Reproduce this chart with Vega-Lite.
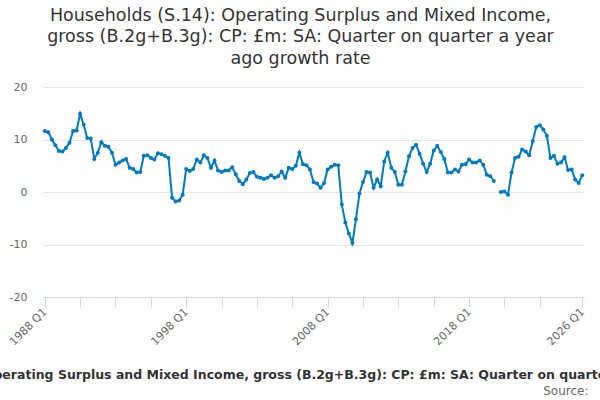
{
  "$schema": "https://vega.github.io/schema/vega-lite/v6.json",
  "description": "Households (S.14): Operating Surplus and Mixed Income, gross, quarter on quarter a year ago growth rate, 1988 Q1 to 2026 Q1.",
  "autosize": {"type": "none"},
  "padding": {"left": 43, "top": 87, "right": 16, "bottom": 103},
  "width": 541,
  "height": 210,
  "background": "#ffffff",
  "title": {
    "text": [
      "Households (S.14): Operating Surplus and Mixed Income,",
      "gross (B.2g+B.3g): CP: £m: SA: Quarter on quarter a year",
      "ago growth rate"
    ],
    "font": "DejaVu Sans",
    "fontSize": 17.5,
    "fontWeight": "normal",
    "color": "#333333",
    "lineHeight": 21.5,
    "anchor": "middle",
    "frame": "group",
    "dx": -13,
    "offset": 14
  },
  "data": {
    "values": [
      {"quarter": "1988 Q1", "value": 11.6}, {"quarter": "1988 Q2", "value": 11.4}, {"quarter": "1988 Q3", "value": 10.0}, {"quarter": "1988 Q4", "value": 8.9},
      {"quarter": "1989 Q1", "value": 7.8}, {"quarter": "1989 Q2", "value": 7.7}, {"quarter": "1989 Q3", "value": 8.4}, {"quarter": "1989 Q4", "value": 9.4},
      {"quarter": "1990 Q1", "value": 11.6}, {"quarter": "1990 Q2", "value": 11.7}, {"quarter": "1990 Q3", "value": 14.9}, {"quarter": "1990 Q4", "value": 12.8},
      {"quarter": "1991 Q1", "value": 10.3}, {"quarter": "1991 Q2", "value": 10.2}, {"quarter": "1991 Q3", "value": 6.3}, {"quarter": "1991 Q4", "value": 7.5},
      {"quarter": "1992 Q1", "value": 9.5}, {"quarter": "1992 Q2", "value": 8.8}, {"quarter": "1992 Q3", "value": 8.6}, {"quarter": "1992 Q4", "value": 7.5},
      {"quarter": "1993 Q1", "value": 5.2}, {"quarter": "1993 Q2", "value": 5.6}, {"quarter": "1993 Q3", "value": 6.0}, {"quarter": "1993 Q4", "value": 6.3},
      {"quarter": "1994 Q1", "value": 4.6}, {"quarter": "1994 Q2", "value": 4.4}, {"quarter": "1994 Q3", "value": 3.7}, {"quarter": "1994 Q4", "value": 3.8},
      {"quarter": "1995 Q1", "value": 6.9}, {"quarter": "1995 Q2", "value": 7.0}, {"quarter": "1995 Q3", "value": 6.5}, {"quarter": "1995 Q4", "value": 6.2},
      {"quarter": "1996 Q1", "value": 7.4}, {"quarter": "1996 Q2", "value": 7.2}, {"quarter": "1996 Q3", "value": 6.9}, {"quarter": "1996 Q4", "value": 6.5},
      {"quarter": "1997 Q1", "value": -1.1}, {"quarter": "1997 Q2", "value": -1.8}, {"quarter": "1997 Q3", "value": -1.6}, {"quarter": "1997 Q4", "value": -0.5},
      {"quarter": "1998 Q1", "value": 4.4}, {"quarter": "1998 Q2", "value": 4.0}, {"quarter": "1998 Q3", "value": 4.4}, {"quarter": "1998 Q4", "value": 6.2},
      {"quarter": "1999 Q1", "value": 5.6}, {"quarter": "1999 Q2", "value": 7.0}, {"quarter": "1999 Q3", "value": 6.5}, {"quarter": "1999 Q4", "value": 4.6},
      {"quarter": "2000 Q1", "value": 6.0}, {"quarter": "2000 Q2", "value": 4.1}, {"quarter": "2000 Q3", "value": 3.8}, {"quarter": "2000 Q4", "value": 4.1},
      {"quarter": "2001 Q1", "value": 4.1}, {"quarter": "2001 Q2", "value": 4.7}, {"quarter": "2001 Q3", "value": 3.4}, {"quarter": "2001 Q4", "value": 2.1},
      {"quarter": "2002 Q1", "value": 1.5}, {"quarter": "2002 Q2", "value": 2.4}, {"quarter": "2002 Q3", "value": 3.6}, {"quarter": "2002 Q4", "value": 3.8},
      {"quarter": "2003 Q1", "value": 2.9}, {"quarter": "2003 Q2", "value": 2.7}, {"quarter": "2003 Q3", "value": 2.5}, {"quarter": "2003 Q4", "value": 2.7},
      {"quarter": "2004 Q1", "value": 3.2}, {"quarter": "2004 Q2", "value": 2.7}, {"quarter": "2004 Q3", "value": 3.0}, {"quarter": "2004 Q4", "value": 3.9},
      {"quarter": "2005 Q1", "value": 2.7}, {"quarter": "2005 Q2", "value": 4.6}, {"quarter": "2005 Q3", "value": 4.4}, {"quarter": "2005 Q4", "value": 5.0},
      {"quarter": "2006 Q1", "value": 7.5}, {"quarter": "2006 Q2", "value": 5.3}, {"quarter": "2006 Q3", "value": 5.1}, {"quarter": "2006 Q4", "value": 4.3},
      {"quarter": "2007 Q1", "value": 1.9}, {"quarter": "2007 Q2", "value": 1.6}, {"quarter": "2007 Q3", "value": 0.8}, {"quarter": "2007 Q4", "value": 1.7},
      {"quarter": "2008 Q1", "value": 4.3}, {"quarter": "2008 Q2", "value": 4.8}, {"quarter": "2008 Q3", "value": 5.2}, {"quarter": "2008 Q4", "value": 5.1},
      {"quarter": "2009 Q1", "value": -2.4}, {"quarter": "2009 Q2", "value": -5.8}, {"quarter": "2009 Q3", "value": -7.9}, {"quarter": "2009 Q4", "value": -9.7},
      {"quarter": "2010 Q1", "value": -5.2}, {"quarter": "2010 Q2", "value": -0.3}, {"quarter": "2010 Q3", "value": 1.9}, {"quarter": "2010 Q4", "value": 3.8},
      {"quarter": "2011 Q1", "value": 3.7}, {"quarter": "2011 Q2", "value": 0.8}, {"quarter": "2011 Q3", "value": 2.4}, {"quarter": "2011 Q4", "value": 1.1},
      {"quarter": "2012 Q1", "value": 5.8}, {"quarter": "2012 Q2", "value": 7.5}, {"quarter": "2012 Q3", "value": 4.6}, {"quarter": "2012 Q4", "value": 3.8},
      {"quarter": "2013 Q1", "value": 1.4}, {"quarter": "2013 Q2", "value": 1.4}, {"quarter": "2013 Q3", "value": 3.9}, {"quarter": "2013 Q4", "value": 6.8},
      {"quarter": "2014 Q1", "value": 8.4}, {"quarter": "2014 Q2", "value": 9.0}, {"quarter": "2014 Q3", "value": 7.3}, {"quarter": "2014 Q4", "value": 5.4},
      {"quarter": "2015 Q1", "value": 3.8}, {"quarter": "2015 Q2", "value": 5.4}, {"quarter": "2015 Q3", "value": 7.9}, {"quarter": "2015 Q4", "value": 8.8},
      {"quarter": "2016 Q1", "value": 7.6}, {"quarter": "2016 Q2", "value": 6.3}, {"quarter": "2016 Q3", "value": 3.7}, {"quarter": "2016 Q4", "value": 3.7},
      {"quarter": "2017 Q1", "value": 4.3}, {"quarter": "2017 Q2", "value": 3.9}, {"quarter": "2017 Q3", "value": 5.2}, {"quarter": "2017 Q4", "value": 5.3},
      {"quarter": "2018 Q1", "value": 6.2}, {"quarter": "2018 Q2", "value": 5.6}, {"quarter": "2018 Q3", "value": 5.6}, {"quarter": "2018 Q4", "value": 6.0},
      {"quarter": "2019 Q1", "value": 5.2}, {"quarter": "2019 Q2", "value": 3.3}, {"quarter": "2019 Q3", "value": 3.0}, {"quarter": "2019 Q4", "value": 2.1},
      {"quarter": "2020 Q1", "value": null}, {"quarter": "2020 Q2", "value": 0.0}, {"quarter": "2020 Q3", "value": 0.1}, {"quarter": "2020 Q4", "value": -0.5},
      {"quarter": "2021 Q1", "value": 3.7}, {"quarter": "2021 Q2", "value": 6.5}, {"quarter": "2021 Q3", "value": 6.7}, {"quarter": "2021 Q4", "value": 8.1},
      {"quarter": "2022 Q1", "value": 7.7}, {"quarter": "2022 Q2", "value": 7.0}, {"quarter": "2022 Q3", "value": 9.7}, {"quarter": "2022 Q4", "value": 12.4},
      {"quarter": "2023 Q1", "value": 12.7}, {"quarter": "2023 Q2", "value": 11.9}, {"quarter": "2023 Q3", "value": 10.7}, {"quarter": "2023 Q4", "value": 6.5},
      {"quarter": "2024 Q1", "value": 6.9}, {"quarter": "2024 Q2", "value": 5.4}, {"quarter": "2024 Q3", "value": 5.6}, {"quarter": "2024 Q4", "value": 6.6},
      {"quarter": "2025 Q1", "value": 4.2}, {"quarter": "2025 Q2", "value": 4.3}, {"quarter": "2025 Q3", "value": 2.4}, {"quarter": "2025 Q4", "value": 1.7},
      {"quarter": "2026 Q1", "value": 3.2}
    ]
  },
  "encoding": {
    "x": {
      "field": "quarter",
      "type": "ordinal",
      "sort": null,
      "scale": {"type": "point", "padding": 0.5},
      "axis": {
        "values": ["1988 Q1", "1990 Q3", "1993 Q1", "1995 Q3", "1998 Q1", "2000 Q3", "2003 Q1", "2005 Q3", "2008 Q1", "2010 Q3", "2013 Q1", "2015 Q3", "2018 Q1", "2020 Q3", "2023 Q1", "2026 Q1"],
        "labelExpr": "indexof(['1988 Q1', '1998 Q1', '2008 Q1', '2018 Q1', '2026 Q1'], datum.value) >= 0 ? datum.value : ''",
        "labelAngle": -45,
        "labelAlign": "right",
        "labelBaseline": "middle",
        "labelPadding": 3,
        "labelOverlap": false,
        "labelFont": "DejaVu Sans",
        "labelFontSize": 11,
        "labelColor": "#666666",
        "grid": false,
        "domainColor": "#ccd6eb",
        "tickColor": "#ccd6eb",
        "tickSize": 10,
        "title": "Households (S.14): Operating Surplus and Mixed Income, gross (B.2g+B.3g): CP: £m: SA: Quarter on quarter a year ago growth rate",
        "titleFont": "DejaVu Sans",
        "titleFontSize": 12.5,
        "titleFontWeight": "bold",
        "titleColor": "#333333",
        "titleAlign": "left",
        "titleBaseline": "alphabetic",
        "titleX": -199,
        "titleY": 81
      }
    },
    "y": {
      "field": "value",
      "type": "quantitative",
      "scale": {"domain": [-20, 20], "nice": false, "zero": false},
      "axis": {
        "values": [-20, -10, 0, 10, 20],
        "labelExpr": "'' + datum.value",
        "labelFont": "DejaVu Sans",
        "labelFontSize": 11,
        "labelColor": "#666666",
        "labelPadding": 16,
        "ticks": false,
        "tickSize": 0,
        "domain": false,
        "gridColor": "#e6e6e6",
        "title": "Source:",
        "titleFont": "DejaVu Sans",
        "titleFontSize": 12,
        "titleFontWeight": "normal",
        "titleColor": "#666666",
        "titleAngle": 0,
        "titleAlign": "right",
        "titleBaseline": "alphabetic",
        "titleX": 545,
        "titleY": 307
      }
    }
  },
  "layer": [
    {
      "mark": {"type": "line", "color": "#007ac3", "strokeWidth": 2, "invalid": "break-paths-show-domains"}
    },
    {
      "mark": {"type": "point", "filled": true, "opacity": 1, "color": "#007ac3", "size": 16}
    }
  ],
  "config": {
    "view": {"stroke": null}
  }
}
